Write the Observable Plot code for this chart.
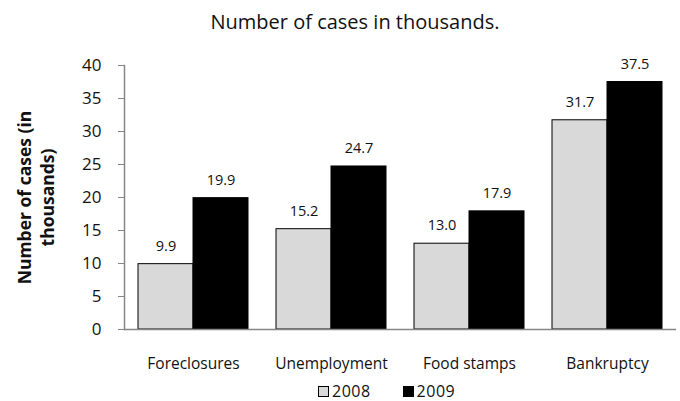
<!DOCTYPE html>
<html><head><meta charset="utf-8">
<script src="https://cdn.jsdelivr.net/npm/d3@7"></script>
<script src="https://cdn.jsdelivr.net/npm/@observablehq/plot@0.6"></script>
<style>
body{margin:0;background:#fff;font-family:"Open Sans",Lato,sans-serif;color:#111;}
#wrap{width:680px;height:401px;position:relative;overflow:hidden;}
#title{position:absolute;top:0;left:0;width:710px;height:44px;line-height:44px;text-align:center;font-size:20px;}
#chart{position:absolute;top:44px;left:0;}
#legend{position:absolute;top:381px;left:318px;font-size:16px;line-height:20px;display:flex;align-items:center;letter-spacing:0.5px;}
.sw{display:inline-block;width:11px;height:11px;border:1px solid #000;margin-right:3px;box-sizing:border-box;}
.item{display:flex;align-items:center;margin-right:32px;}
</style></head><body>
<div id="wrap">
<div id="title">Number of cases in thousands.</div>
<div id="chart"></div>
<div id="legend"></div>
</div>
<script>
const categories = ["Foreclosures", "Unemployment", "Food stamps", "Bankruptcy"];
const years = ["2008", "2009"];
const values2008 = [9.9, 15.2, 13.0, 31.7];
const values2009 = [19.9, 24.7, 17.9, 37.5];
const yTicks = [0, 5, 10, 15, 20, 25, 30, 35, 40];
const yearColors = ["#d9d9d9", "#000000"];
const yLabel = "Number of cases (in\nthousands)";

const data = categories.flatMap((c, i) => [
  {category: c, year: years[0], value: values2008[i]},
  {category: c, year: years[1], value: values2009[i]}
]);

const chart = Plot.plot({
  width: 680,
  height: 334,
  marginTop: 21,
  marginBottom: 49,
  marginLeft: 123,
  marginRight: 4,
  style: {fontFamily: "'Open Sans', Lato, sans-serif", background: "white", color: "#111"},
  fx: {domain: categories, padding: 0, label: null},
  x: {domain: years, paddingInner: 0, paddingOuter: 0.25, axis: null},
  y: {domain: [0, 40], label: null},
  color: {domain: years, range: yearColors},
  marks: [
    Plot.barY(data, {fx: "category", x: "year", y: "value", fill: "year", stroke: "#000", strokeWidth: 1}),
    Plot.text(data, {fx: "category", x: "year", y: "value", text: d => d.value.toFixed(1), dy: -18, fontSize: 14.5, fill: "#111"}),
    Plot.ruleY([0], {stroke: "#868686", strokeWidth: 1.5}),
    Plot.frame({anchor: "left", stroke: "#868686", strokeWidth: 1.5, facetAnchor: "left"}),
    Plot.axisY({ticks: yTicks, tickSize: 6, tickPadding: 17, stroke: "#868686", fill: "#111", fontSize: 17, label: null}),
    Plot.axisFx({anchor: "bottom", tickSize: 0, tickPadding: 28, fontSize: 15.5, label: null, fill: "#111"}),
    Plot.text([yLabel], {frameAnchor: "left", textAnchor: "middle", rotate: -90, dx: -89, fontWeight: "bold", fontSize: 17.5, lineHeight: 1.3, fill: "#111", facetAnchor: "left"})
  ]
});
document.getElementById("chart").appendChild(chart);

const legend = document.getElementById("legend");
years.forEach((y, i) => {
  const item = document.createElement("div");
  item.className = "item";
  const sw = document.createElement("span");
  sw.className = "sw";
  sw.style.background = yearColors[i];
  item.appendChild(sw);
  item.appendChild(document.createTextNode(y));
  legend.appendChild(item);
});
</script>
</body></html>
